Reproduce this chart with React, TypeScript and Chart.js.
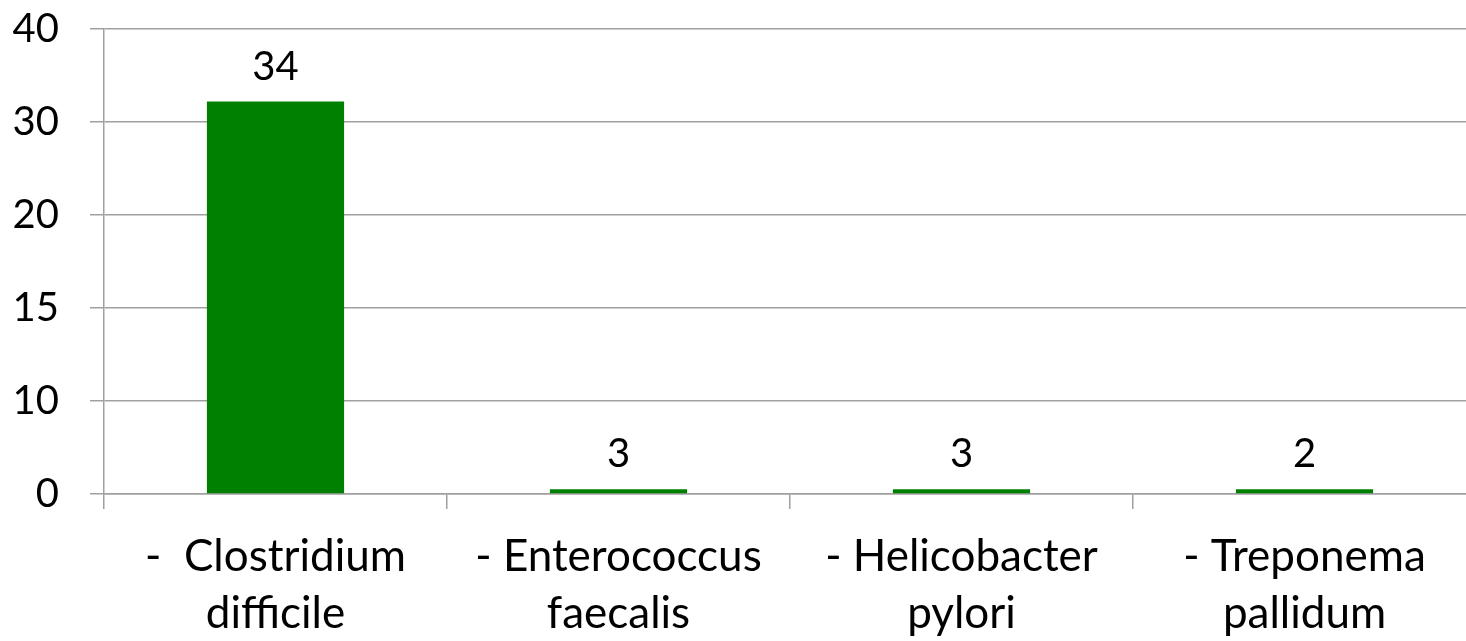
import React, { useEffect, useRef } from "react";
import { Chart, registerables, LinearScale } from "chart.js";

const categories: string[][] = [
  ["-  Clostridium", "difficile"],
  ["- Enterococcus", "faecalis"],
  ["- Helicobacter", "pylori"],
  ["- Treponema", "pallidum"],
];
// bar heights as drawn, in axis units
const barHeights: number[] = [32.2, 0.5, 0.5, 0.5];
// values printed above bars
const barLabels: number[] = [34, 3, 3, 2];
// y-axis tick labels (evenly spaced on the axis)
const yTicks: number[] = [0, 10, 15, 20, 30, 40];

const FONT = "Lato, 'Open Sans', sans-serif";
const GREEN = "#008000";
const GRID = "#a0a0a0";

class PiecewiseScale extends LinearScale {
  static id = "piecewise";
  static defaults = (LinearScale as any).defaults;
  buildTicks() {
    (this as any).start = yTicks[0];
    (this as any).end = yTicks[yTicks.length - 1];
    return yTicks.map((v) => ({ value: v }));
  }
  toDecimal(value: number) {
    const n = yTicks.length - 1;
    if (value <= yTicks[0]) return 0;
    for (let i = 0; i < n; i++) {
      if (value <= yTicks[i + 1]) {
        return (i + (value - yTicks[i]) / (yTicks[i + 1] - yTicks[i])) / n;
      }
    }
    return 1;
  }
  getPixelForValue(value: number) {
    if (value === null || value === undefined || isNaN(value)) return NaN;
    return (this as any).getPixelForDecimal(this.toDecimal(value));
  }
  getValueForPixel(pixel: number) {
    const d = (this as any).getDecimalForPixel(pixel) * (yTicks.length - 1);
    const i = Math.max(0, Math.min(yTicks.length - 2, Math.floor(d)));
    return yTicks[i] + (d - i) * (yTicks[i + 1] - yTicks[i]);
  }
}

Chart.register(...registerables, PiecewiseScale as any);

const labelPlugin = {
  id: "barLabels",
  afterDatasetsDraw(chart: any) {
    const ctx = chart.ctx;
    const meta = chart.getDatasetMeta(0);
    ctx.save();
    ctx.font = `40px ${FONT}`;
    ctx.fillStyle = "#000";
    ctx.textAlign = "center";
    ctx.textBaseline = "alphabetic";
    meta.data.forEach((bar: any, i: number) => {
      ctx.fillText(String(barLabels[i]), bar.x, bar.y - 22);
    });
    ctx.restore();
  },
};

export default function App() {
  const ref = useRef<HTMLCanvasElement>(null);
  useEffect(() => {
    document.body.style.margin = "0";
    const chart = new Chart(ref.current!, {
      type: "bar",
      data: {
        labels: categories,
        datasets: [
          {
            data: barHeights,
            backgroundColor: GREEN,
            borderWidth: 0,
            barPercentage: 0.8,
            categoryPercentage: 0.5,
          },
        ],
      },
      plugins: [labelPlugin],
      options: {
        animation: false,
        responsive: false,
        layout: { padding: { top: 29, right: 14, left: 0, bottom: 0 } },
        plugins: { legend: { display: false }, tooltip: { enabled: false } },
        scales: {
          x: {
            offset: true,
            grid: {
              offset: true,
              drawOnChartArea: false,
              drawTicks: true,
              tickLength: 15,
              color: GRID,
              lineWidth: 1.5,
            },
            border: { display: true, color: GRID, width: 1.5 },
            ticks: {
              color: "#000",
              font: { family: FONT, size: 44, lineHeight: 1.28 },
              padding: 20,
              maxRotation: 0,
              autoSkip: false,
            },
            afterFit: (s: any) => {
              s.height = 147;
              s.paddingLeft = 0;
              s.paddingRight = 0;
            },
          },
          y: {
            type: "piecewise" as any,
            min: 0,
            max: 40,
            grid: {
              color: GRID,
              lineWidth: 1.5,
              tickLength: 14,
              drawTicks: true,
            },
            border: { display: true, color: GRID, width: 1.5 },
            ticks: {
              color: "#000",
              font: { family: FONT, size: 40 },
              padding: 31,
              callback: (v: any) => String(v),
            },
            afterFit: (s: any) => {
              s.width = 104;
              s.paddingTop = 0;
              s.paddingBottom = 0;
            },
          },
        },
      },
    });
    return () => chart.destroy();
  }, []);
  return (
    <div
      style={{
        position: "fixed",
        left: 0,
        top: 0,
        width: 1466,
        height: 641,
        overflow: "hidden",
        background: "#fff",
      }}
    >
      <canvas ref={ref} width={1490} height={641} style={{ display: "block" }} />
    </div>
  );
}
